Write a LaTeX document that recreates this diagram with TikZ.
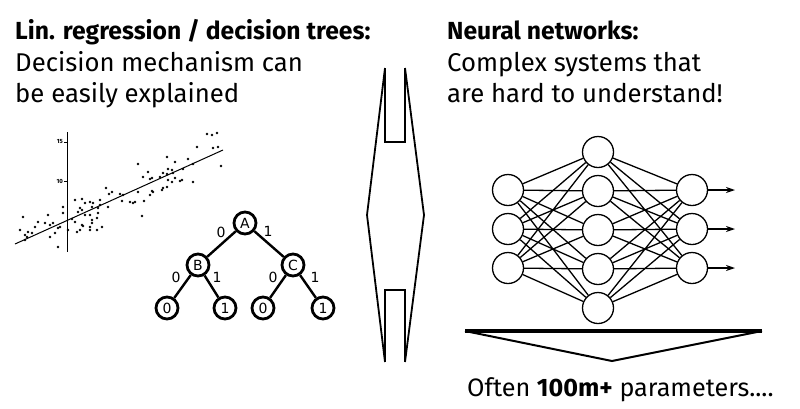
\documentclass[tikz,border=0pt]{standalone}
\usepackage{fontspec}
\setmainfont{Fira Sans}
\newfontfamily\dejavu{DejaVu Sans}
\usetikzlibrary{arrows.meta}
\tikzset{
  hdr/.style={anchor=base west, inner sep=0pt, font=\fontsize{24.7}{24.7}\selectfont\bfseries},
  bodytxt/.style={anchor=base west, inner sep=0pt, font=\fontsize{25.7}{25.7}\selectfont},
  tnode/.style={circle, draw, line width=2.8pt, minimum size=22pt, inner sep=0pt, font=\dejavu\fontsize{14}{14}\selectfont},
  tedge/.style={line width=2.4pt},
  elab/.style={inner sep=0pt, font=\dejavu\fontsize{14}{14}\selectfont},
  nn/.style={circle, draw, line width=1.3pt, minimum size=31pt, inner sep=0pt},
  nedge/.style={line width=1.3pt},
  dot/.style={fill=black},
  ticklab/.style={inner sep=0pt, anchor=east, font=\fontsize{6}{6}\selectfont\bfseries}
}
\begin{document}
\begin{tikzpicture}[x=1pt,y=-1pt]
\useasboundingbox (0,0) rectangle (800,408);

% headings
\node[hdr] (t1) at (15,39) {Lin. regression / decision trees:};
\node[bodytxt] (t2) at (15,71) {Decision mechanism can};
\node[bodytxt] (t3) at (15,102) {be easily explained};
\node[hdr] (r1) at (447,39) {Neural networks:};
\node[bodytxt] (r2) at (447,71) {Complex systems that};
\node[bodytxt] (r3) at (447,102) {are hard to understand!};

% scatter plot
\draw[line width=1pt] (67,132) -- (67,252);
\draw[line width=0.8pt] (64,142) -- (67,142);
\draw[line width=0.8pt] (64,181) -- (67,181);
\node[ticklab] (l15) at (63,142) {15};
\node[ticklab] (l10) at (63,181) {10};
\draw[line width=1pt] (15,244) -- (223,150);
\foreach \p in {(207,134),(212,135),(217,133),(197,147),(218,147),(213,148),(167,157),(175,162),(188,159),(138,164),
 (148,172),(168,169),(172,170),(167,174),(173,173),(183,169),(193,164),(221,166),(143,177),(152,178),(150,179),
 (160,177),(163,173),(168,180),(172,182),(175,178),(180,181),(182,180),(193,182),(167,187),(163,188),(162,190),
 (152,191),(153,192),(150,195),(138,192),(106,188),(112,192),(109,194),(120,194),(123,195),(130,202),(135,202),
 (133,203),(122,201),(144,201),(142,216),(75,200),(82,199),(85,203),(90,202),(93,203),(100,200),(100,205),(98,208),
 (108,207),(92,207),(80,208),(82,210),(78,212),(63,207),(63,213),(85,215),(92,220),(97,218),(98,213),(90,215),
 (72,219),(75,222),(82,225),(83,226),(90,227),(92,223),(97,230),(102,227),(90,230),(80,230),(77,232),(68,230),
 (23,217),(48,215),(38,222),(45,223),(50,225),(53,223),(35,227),(20,230),(25,235),(28,232),(32,233),(27,237),
 (55,233),(50,237),(60,227),(58,228),(58,247),(25,240)}
  \fill[dot] \p circle (1.4pt);

% decision tree
\node[tnode] (A) at (245,223) {A};
\node[tnode] (B) at (198,265) {B};
\node[tnode] (C) at (293,265) {C};
\node[tnode] (L1) at (167,308) {0};
\node[tnode] (L2) at (225,308) {1};
\node[tnode] (L3) at (263,308) {0};
\node[tnode] (L4) at (323,308) {1};
\draw[tedge] (A) -- (B);
\draw[tedge] (A) -- (C);
\draw[tedge] (B) -- (L1);
\draw[tedge] (B) -- (L2);
\draw[tedge] (C) -- (L3);
\draw[tedge] (C) -- (L4);
\node[elab] (e1) at (221,232) {0};
\node[elab] (e2) at (268,231) {1};
\node[elab] (e3) at (176,277) {0};
\node[elab] (e4) at (217,277) {1};
\node[elab] (e5) at (273,277) {0};
\node[elab] (e6) at (315,277) {1};

% central double shape
\draw[line width=1.8pt, line join=miter] (385,68) -- (367,215) -- (385,362);
\draw[line width=1.8pt, line join=miter] (405,68) -- (424,215) -- (405,362);
\draw[line width=1.3pt] (385,68) -- (385,142) -- (405,142) -- (405,68);
\draw[line width=1.3pt] (385,362) -- (385,290) -- (405,290) -- (405,362);

% neural network
\foreach \i/\y in {1/190,2/229,3/268} \node[nn] (I\i) at (508,\y) {};
\foreach \i/\y in {1/152,2/191,3/230,4/269,5/308} \node[nn] (H\i) at (598,\y) {};
\foreach \i/\y in {1/190,2/229,3/268} \node[nn] (O\i) at (692,\y) {};
\foreach \i in {1,2,3} \foreach \j in {1,...,5} \draw[nedge] (I\i) -- (H\j);
\foreach \j in {1,...,5} \foreach \k in {1,2,3} \draw[nedge] (H\j) -- (O\k);
\foreach \k/\y in {1/190,2/229,3/268} {
  \coordinate (E\k) at (735,\y);
  \draw[nedge, -{Stealth[length=9pt,width=6pt]}] (O\k) -- (E\k);
}

% bottom arrow
\draw[line width=3.5pt] (465,331) -- (762,331);
\draw[line width=2pt, line join=miter] (465,331) -- (612,361) -- (762,331);
\node[anchor=base west, inner sep=0pt, font=\fontsize{25.2}{25.2}\selectfont] (bt) at (467,396) {Often \textbf{100m+} parameters....};
\end{tikzpicture}
\end{document}
